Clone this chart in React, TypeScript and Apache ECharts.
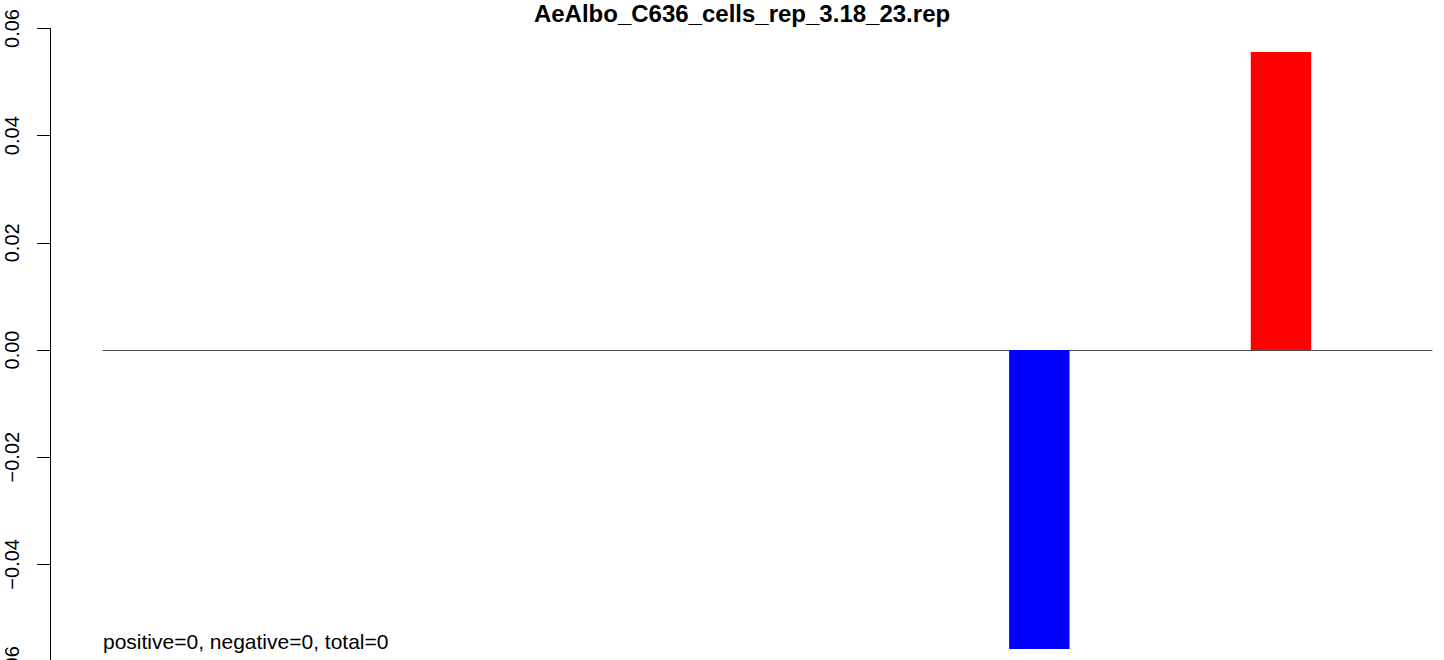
import React, { useEffect, useRef } from "react";
import * as echarts from "echarts";

const chartTitle = "AeAlbo_C636_cells_rep_3.18_23.rep";
const summaryText = "positive=0, negative=0, total=0";
const barValues = [0, 0, 0, 0, 0, 0, 0, -0.0558, 0, 0.0556, 0];
const yTicks = { min: -0.06, max: 0.06, interval: 0.02 };

export default function App() {
  const ref = useRef<HTMLDivElement>(null);
  useEffect(() => {
    if (!ref.current) return;
    const chart = echarts.init(ref.current, null, { renderer: "svg" });
    // R barplot with space = 1: each bar preceded by an equal-width gap
    const cats: string[] = [];
    const data: any[] = [];
    barValues.forEach((v, i) => {
      cats.push("gap" + i);
      data.push(null);
      cats.push("bar" + i);
      data.push({
        value: v,
        itemStyle: { color: v < 0 ? "#0000FF" : "#FF0000" },
      });
    });
    const font = "'Liberation Sans', Arial, Helvetica, sans-serif";
    chart.setOption({
      animation: false,
      backgroundColor: "#ffffff",
      title: [
        {
          text: chartTitle,
          left: 742,
          top: 1,
          textAlign: "center",
          padding: 0,
          textStyle: { fontFamily: font, fontWeight: "bold", fontSize: 24, color: "#000" },
        },
        {
          text: summaryText,
          left: 103,
          top: 631,
          padding: 0,
          textStyle: { fontFamily: font, fontWeight: "normal", fontSize: 21, color: "#000" },
        },
      ],
      grid: {
        left: 103,
        right: 12,
        top: 28.5,
        height: 643,
        containLabel: false,
        outerBoundsMode: "none",
      },
      xAxis: {
        type: "category",
        data: cats,
        boundaryGap: true,
        axisLine: { show: true, onZero: true, lineStyle: { color: "#4d4d4d", width: 1 } },
        axisTick: { show: false },
        axisLabel: { show: false },
        splitLine: { show: false },
      },
      yAxis: {
        type: "value",
        min: yTicks.min,
        max: yTicks.max,
        interval: yTicks.interval,
        offset: 53,
        axisLine: { show: true, lineStyle: { color: "#000", width: 1 } },
        axisTick: { show: true, length: 13, lineStyle: { color: "#000", width: 1 } },
        axisLabel: {
          show: true,
          rotate: 90,
          margin: 28,
          fontFamily: font,
          fontSize: 20,
          color: "#000",
          formatter: (v: number) => v.toFixed(2).replace("-", "\u2212"),
        },
        splitLine: { show: false },
      },
      series: [
        {
          type: "bar",
          data,
          barCategoryGap: "0%",
          barGap: "0%",
        },
      ],
    });
    return () => chart.dispose();
  }, []);
  return (
    <div
      ref={ref}
      style={{ position: "fixed", left: 0, top: 0, width: 1444, height: 660 }}
    />
  );
}
